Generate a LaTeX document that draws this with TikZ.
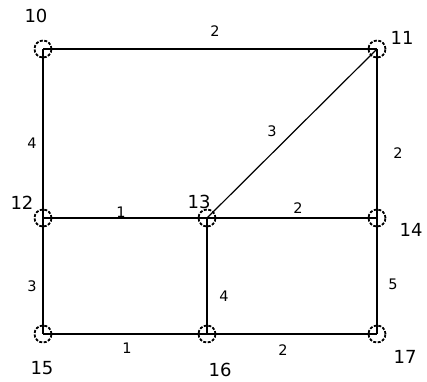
\documentclass[tikz,border=0pt]{standalone}
\usepackage{fontspec}
\setmainfont{DejaVu Sans}
\begin{document}
\begin{tikzpicture}[x=1pt,y=-1pt,
  vert/.style={circle,draw,dash pattern=on 3pt off 1.5pt,line width=1.8pt,minimum size=17pt,inner sep=0pt},
  edge/.style={line width=2.4pt,black},
  thinedge/.style={line width=1.2pt,black},
  nlab/.style={font=\fontsize{18}{18}\selectfont,inner sep=0pt},
  elab/.style={font=\fontsize{14.5}{14.5}\selectfont,inner sep=0pt}]
\useasboundingbox (0,0) rectangle (427,381);
\coordinate (c10) at (43,49);
\coordinate (c11) at (377,49);
\coordinate (c12) at (43,218);
\coordinate (c13) at (207,218);
\coordinate (c14) at (377,218);
\coordinate (c15) at (43,334);
\coordinate (c16) at (207,334);
\coordinate (c17) at (377,334);
\draw[edge] (c10) -- (c11);
\draw[edge] (c10) -- (c12);
\draw[edge] (c11) -- (c14);
\draw[thinedge] (c13) -- (c11);
\draw[edge] (c12) -- (c13);
\draw[edge] (c13) -- (c14);
\draw[edge] (c12) -- (c15);
\draw[edge] (c13) -- (c16);
\draw[edge] (c14) -- (c17);
\draw[edge] (c15) -- (c16);
\draw[edge] (c16) -- (c17);
\foreach \n in {10,11,12,13,14,15,16,17} { \node[vert] (v\n) at (c\n) {}; }
\node[nlab] (l10) at (36,16) {10};
\node[nlab] (l11) at (402,38) {11};
\node[nlab] (l12) at (22,203) {12};
\node[nlab] (l13) at (199,202) {13};
\node[nlab] (l14) at (411,230) {14};
\node[nlab] (l15) at (42,368) {15};
\node[nlab] (l16) at (220,370) {16};
\node[nlab] (l17) at (405,357) {17};
\node[elab] (e1) at (215,31) {2};
\node[elab] (e2) at (32,143) {4};
\node[elab] (e3) at (272,131) {3};
\node[elab] (e4) at (398,153) {2};
\node[elab] (e5) at (121,212) {1};
\node[elab] (e6) at (298,208) {2};
\node[elab] (e7) at (32,286) {3};
\node[elab] (e8) at (224,296) {4};
\node[elab] (e9) at (393,284) {5};
\node[elab] (e10) at (127,348) {1};
\node[elab] (e11) at (283,350) {2};
\end{tikzpicture}
\end{document}
